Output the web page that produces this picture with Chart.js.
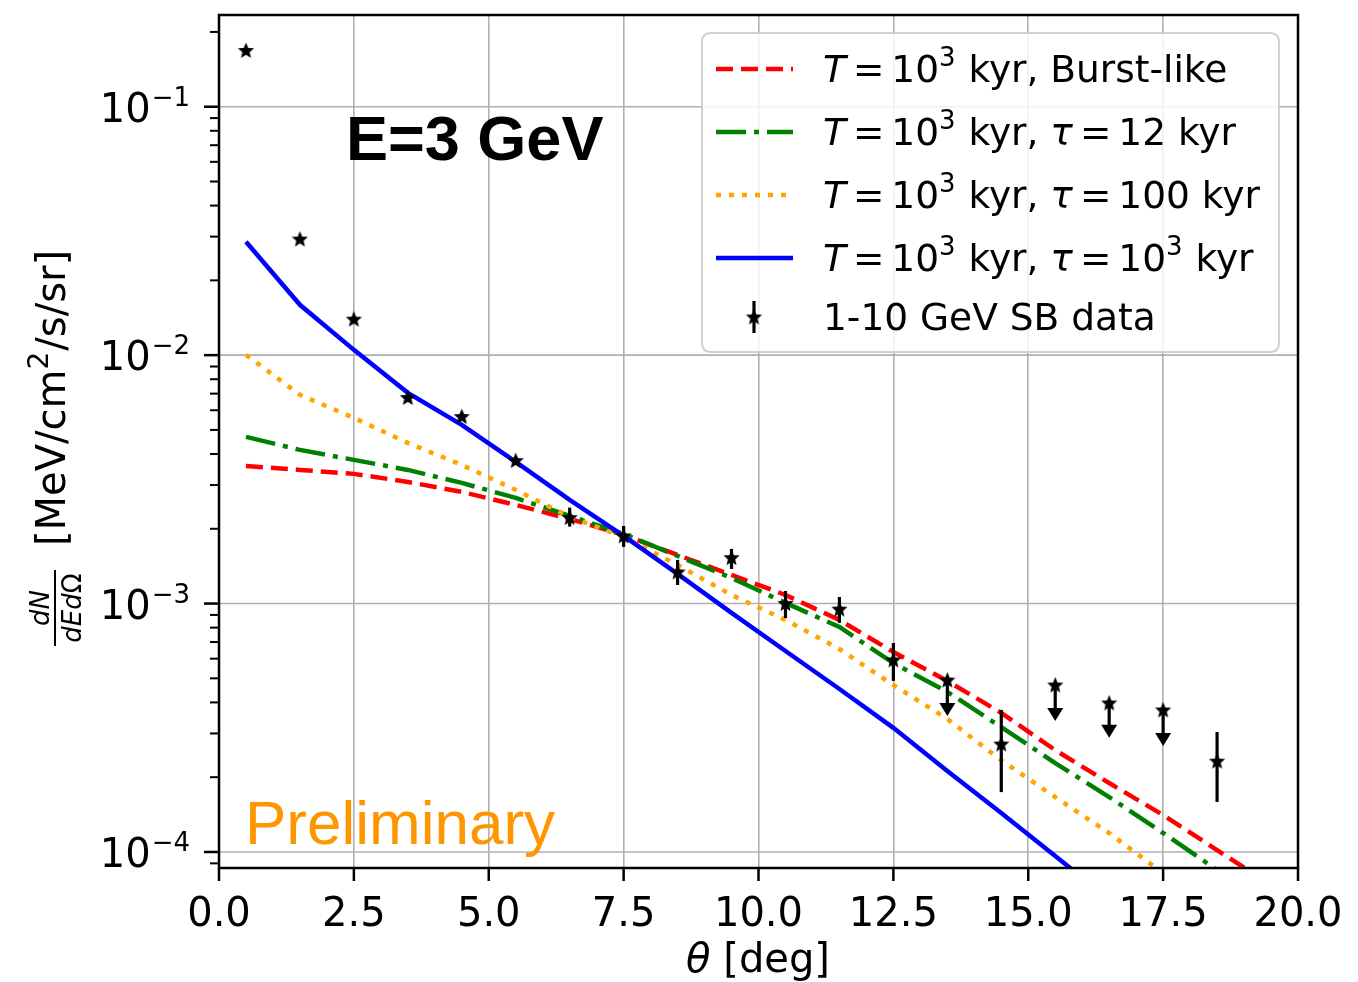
<!DOCTYPE html>
<html><head><meta charset="utf-8">
<script src="https://cdn.jsdelivr.net/npm/chart.js@4/dist/chart.umd.min.js"></script>
<style>html,body{margin:0;padding:0;background:#fff;overflow:hidden}</style>
</head><body>
<canvas id="c" width="1358" height="982" style="display:block;width:1358px;height:982px"></canvas>
<script>
// ---------------- data ----------------
const thetaModel = [0.5,1.5,2.5,3.5,4.5,5.5,6.5,7.5,8.5,9.5,10.5,11.5,12.5,13.5,14.5,15.5,16.5,17.5,18.5,19.5];
const burstLike = [0.003582,0.003452,0.003327,0.003088,0.002814,0.002495,0.002191,0.001889,0.001569,0.001304,0.001083,0.000859,0.000638,0.000488,0.000363,0.000257,0.0001895,0.0001408,0.0001018,0.0000736];
const tau12     = [0.004688,0.004155,0.003787,0.003451,0.003060,0.002662,0.002253,0.001907,0.001555,0.001268,0.001006,0.000805,0.000576,0.000441,0.000318,0.000228,0.0001664,0.0001192,0.0000846,0.0000605];
const tau100    = [0.010028,0.006920,0.005591,0.004433,0.003615,0.002868,0.002233,0.001854,0.001430,0.001083,0.000859,0.000656,0.000470,0.000343,0.000234,0.0001664,0.0001192,0.0000822];
const tau1000   = [0.02859,0.01594,0.01050,0.00705,0.00524,0.00372,0.002614,0.001872,0.001316,0.000917,0.000644,0.000453,0.000316,0.000212,0.0001435,0.0000963,0.0000646];

const thetaData = [0.5,1.5,2.5,3.5,4.5,5.5,6.5,7.5,8.5,9.5,10.5,11.5,12.5,13.5,14.5,15.5,16.5,17.5,18.5];
const sbData    = [0.1684,0.02931,0.01396,0.006751,0.005658,0.003762,0.002218,0.001872,0.00134,0.00153,0.001,0.00095,0.000593,0.000492,0.000272,0.00047,0.000398,0.000373,0.000232];
const sbErrLow  = [0.1684,0.02931,0.01396,0.00650,0.00545,0.00362,0.002041,0.00169,0.001188,0.001378,0.000875,0.000836,0.000488,0.000353,0.0001742,0.000337,0.000288,0.000267,0.000159];
const sbErrHigh = [0.1684,0.02931,0.01396,0.00701,0.00587,0.00390,0.002434,0.002053,0.0014985,0.00166,0.001124,0.001063,0.000694,0.000492,0.000373,0.00047,0.000398,0.000373,0.000304];
const sbUpperLimit = [false,false,false,false,false,false,false,false,false,false,false,false,false,true,false,true,true,true,false];

const xTickValues = [0,2.5,5,7.5,10,12.5,15,17.5,20];
const xTickLabels = ['0.0','2.5','5.0','7.5','10.0','12.5','15.0','17.5','20.0'];
const yDecades = [-4,-3,-2,-1];
const yMin = 8.62e-5, yMax = 0.234;

const legendTexts = [
  [{t:'T',it:1},{g:7},{t:'='},{g:7},{t:'10'},{t:'3',sup:1},{t:' kyr, Burst-like'}],
  [{t:'T',it:1},{g:7},{t:'='},{g:7},{t:'10'},{t:'3',sup:1},{t:' kyr, '},{t:'τ',it:1},{g:7},{t:'='},{g:7},{t:'12 kyr'}],
  [{t:'T',it:1},{g:7},{t:'='},{g:7},{t:'10'},{t:'3',sup:1},{t:' kyr, '},{t:'τ',it:1},{g:7},{t:'='},{g:7},{t:'100 kyr'}],
  [{t:'T',it:1},{g:7},{t:'='},{g:7},{t:'10'},{t:'3',sup:1},{t:' kyr, '},{t:'τ',it:1},{g:7},{t:'='},{g:7},{t:'10'},{t:'3',sup:1},{t:' kyr'}],
  [{t:'1-10 GeV SB data'}]
];

// ---------------- helpers ----------------
const FONT = '"DejaVu Sans"';
function makeStar(r){
  const s = Math.ceil(r*2+4), c = document.createElement('canvas');
  c.width = s; c.height = s;
  const g = c.getContext('2d');
  g.translate(s/2, s/2+0.5);
  g.beginPath();
  for(let i=0;i<10;i++){
    const rr = i%2 ? r*0.45 : r, a = -Math.PI/2 + i*Math.PI/5;
    g.lineTo(rr*Math.cos(a), rr*Math.sin(a));
  }
  g.closePath(); g.fillStyle = '#000'; g.fill();
  return c;
}
const starImg = makeStar(8.5);

function drawRich(ctx, parts, x, y, size){
  let cx = x;
  for(const p of parts){
    if(p.g){ cx += p.g; continue; }
    const sz = p.sup ? Math.round(size*0.7) : size;
    ctx.font = (p.it ? 'italic ' : '') + sz + 'px ' + FONT;
    ctx.fillText(p.t, cx, p.sup ? y - size*0.42 : y);
    cx += ctx.measureText(p.t).width + (p.sup ? 1 : 0);
  }
  return cx;
}
function drawStarAt(ctx, x, y){ ctx.drawImage(starImg, x - starImg.width/2, y - starImg.height/2); }
function drawDown(ctx, x, yTop, yTip){
  ctx.beginPath(); ctx.moveTo(x, yTop); ctx.lineTo(x, yTip-12); ctx.stroke();
  ctx.beginPath(); ctx.moveTo(x-8, yTip-13); ctx.lineTo(x+8, yTip-13); ctx.lineTo(x, yTip); ctx.closePath(); ctx.fill();
}

const decorPlugin = {
  id: 'decor',
  beforeDatasetsDraw(chart){
    const ctx = chart.ctx, a = chart.chartArea, ys = chart.scales.y;
    ctx.save();
    ctx.strokeStyle = '#b0b0b0'; ctx.lineWidth = 1.6;
    for(const n of yDecades){
      const py = ys.getPixelForValue(Math.pow(10,n));
      ctx.beginPath(); ctx.moveTo(a.left, py); ctx.lineTo(a.right, py); ctx.stroke();
    }
    ctx.restore();
  },
  afterDatasetsDraw(chart){
    const ctx = chart.ctx, a = chart.chartArea, xs = chart.scales.x, ys = chart.scales.y;
    ctx.save();
    // error bars & upper limits
    ctx.beginPath(); ctx.rect(a.left, a.top, a.right-a.left, a.bottom-a.top); ctx.clip();
    ctx.strokeStyle = '#000'; ctx.fillStyle = '#000'; ctx.lineWidth = 3.2;
    thetaData.forEach((t,i)=>{
      const px = xs.getPixelForValue(t);
      if(sbUpperLimit[i]){
        drawDown(ctx, px, ys.getPixelForValue(sbData[i]), ys.getPixelForValue(sbErrLow[i]));
      } else if(sbErrHigh[i] !== sbErrLow[i]){
        ctx.beginPath();
        ctx.moveTo(px, ys.getPixelForValue(sbErrHigh[i]));
        ctx.lineTo(px, ys.getPixelForValue(sbErrLow[i]));
        ctx.stroke();
      }
    });
    ctx.restore();

    ctx.save();
    // annotations
    ctx.fillStyle = '#000';
    ctx.font = 'bold 63px "Liberation Sans"';
    ctx.textBaseline = 'alphabetic'; ctx.textAlign = 'left';
    ctx.fillText('E=3 GeV', 346, 160);
    ctx.fillStyle = '#ff9600';
    ctx.font = '62px "Liberation Sans"';
    ctx.fillText('Preliminary', 245, 844);

    // legend
    const lx = 702, ly = 33, lw = 577, lh = 319, r = 9;
    ctx.beginPath();
    ctx.moveTo(lx+r, ly); ctx.lineTo(lx+lw-r, ly); ctx.quadraticCurveTo(lx+lw, ly, lx+lw, ly+r);
    ctx.lineTo(lx+lw, ly+lh-r); ctx.quadraticCurveTo(lx+lw, ly+lh, lx+lw-r, ly+lh);
    ctx.lineTo(lx+r, ly+lh); ctx.quadraticCurveTo(lx, ly+lh, lx, ly+lh-r);
    ctx.lineTo(lx, ly+r); ctx.quadraticCurveTo(lx, ly, lx+r, ly); ctx.closePath();
    ctx.fillStyle = 'rgba(255,255,255,0.82)'; ctx.fill();
    ctx.strokeStyle = '#d0d0d0'; ctx.lineWidth = 2; ctx.stroke();

    const rowsY = [69, 132, 195, 258, 317];
    const dsList = chart.data.datasets;
    for(let i=0;i<4;i++){
      const ds = dsList[i];
      ctx.strokeStyle = ds.borderColor; ctx.lineWidth = ds.borderWidth;
      ctx.setLineDash(ds.borderDash || []);
      ctx.beginPath(); ctx.moveTo(716, rowsY[i]); ctx.lineTo(793, rowsY[i]); ctx.stroke();
    }
    ctx.setLineDash([]);
    ctx.strokeStyle = '#000'; ctx.lineWidth = 3.2;
    ctx.beginPath(); ctx.moveTo(754, rowsY[4]-16); ctx.lineTo(754, rowsY[4]+16); ctx.stroke();
    drawStarAt(ctx, 754, rowsY[4]);
    ctx.fillStyle = '#000';
    legendTexts.forEach((parts,i)=> drawRich(ctx, parts, 823, rowsY[i]+13, 37.5));

    // frame
    ctx.strokeStyle = '#000'; ctx.lineWidth = 2.5;
    ctx.strokeRect(a.left, a.top, a.right-a.left, a.bottom-a.top);

    // x ticks + labels
    ctx.lineWidth = 2.5;
    ctx.font = '40px ' + FONT; ctx.textAlign = 'center';
    xTickValues.forEach((v,i)=>{
      const px = xs.getPixelForValue(v);
      ctx.beginPath(); ctx.moveTo(px, a.bottom); ctx.lineTo(px, a.bottom+13); ctx.stroke();
      ctx.fillText(xTickLabels[i], px, 926);
    });
    ctx.textAlign = 'left';
    // y ticks (major + minor)
    for(let n=-5;n<=0;n++){
      for(let k=1;k<=9;k++){
        const v = k*Math.pow(10,n);
        if(v < yMin || v > yMax) continue;
        const py = ys.getPixelForValue(v);
        ctx.lineWidth = k===1 ? 2.5 : 2;
        ctx.beginPath(); ctx.moveTo(a.left, py); ctx.lineTo(a.left-(k===1?15:9), py); ctx.stroke();
      }
    }
    // y tick labels
    ctx.fillStyle = '#000';
    for(const n of yDecades){
      const py = ys.getPixelForValue(Math.pow(10,n));
      ctx.font = '26px ' + FONT;
      const ex = '\u2212' + Math.abs(n);
      const ew = ctx.measureText(ex).width;
      ctx.fillText(ex, 190 - ew, py - 1);
      ctx.font = '40px ' + FONT;
      const bw = ctx.measureText('10').width;
      ctx.fillText('10', 190 - ew - bw - 1, py + 15);
    }
    // x axis label
    ctx.font = 'italic 40px ' + FONT;
    const thw = ctx.measureText('θ').width;
    ctx.font = '40px ' + FONT;
    const rw = ctx.measureText(' [deg]').width;
    const sx = 758 - (thw + rw)/2;
    drawRich(ctx, [{t:'θ',it:1},{t:' [deg]'}], sx, 972, 40);

    // y axis label
    ctx.save();
    ctx.translate(65, 546); ctx.rotate(-Math.PI/2);
    drawRich(ctx, [{t:'[MeV/cm'},{t:'2',sup:1},{t:'/s/sr]'}], 0, 0, 40);
    ctx.restore();
    // fraction dN / dEdΩ
    ctx.save();
    ctx.translate(55, 646); ctx.rotate(-Math.PI/2);
    ctx.lineWidth = 2; ctx.beginPath(); ctx.moveTo(0,0); ctx.lineTo(76,0); ctx.stroke();
    ctx.font = 'italic 26px ' + FONT;
    const nw = ctx.measureText('dN').width;
    ctx.fillText('dN', 38 - nw/2, -6);
    ctx.font = 'italic 26px ' + FONT;
    const d1 = ctx.measureText('dEd').width;
    ctx.font = '26px ' + FONT;
    const d2 = ctx.measureText('Ω').width;
    const ds0 = 38 - (d1+d2)/2;
    ctx.font = 'italic 26px ' + FONT; ctx.fillText('dEd', ds0, 26);
    ctx.font = '26px ' + FONT; ctx.fillText('Ω', ds0 + d1, 26);
    ctx.restore();

    ctx.restore();
  }
};

const pts = (xs, ys) => xs.slice(0, ys.length).map((x,i)=>({x, y: ys[i]}));

new Chart(document.getElementById('c').getContext('2d'), {
  type: 'line',
  data: {
    datasets: [
      {label:'T = 10^3 kyr, Burst-like', data: pts(thetaModel, burstLike), borderColor:'#ff0000', borderWidth:4.5, borderDash:[17,8], pointRadius:0, fill:false, tension:0, order:4},
      {label:'T = 10^3 kyr, tau = 12 kyr', data: pts(thetaModel, tau12), borderColor:'#008000', borderWidth:4.5, borderDash:[30,8,5,8], pointRadius:0, fill:false, tension:0, order:3},
      {label:'T = 10^3 kyr, tau = 100 kyr', data: pts(thetaModel, tau100), borderColor:'#ffa500', borderWidth:4.5, borderDash:[5,8], pointRadius:0, fill:false, tension:0, order:2},
      {label:'T = 10^3 kyr, tau = 10^3 kyr', data: pts(thetaModel, tau1000), borderColor:'#0000ff', borderWidth:4.5, pointRadius:0, fill:false, tension:0, order:1},
      {label:'1-10 GeV SB data', data: pts(thetaData, sbData), showLine:false, pointStyle: starImg, pointRadius: 9, borderColor:'#000', backgroundColor:'#000', order:0}
    ]
  },
  options: {
    responsive:false, animation:false, devicePixelRatio:1,
    layout:{padding:{top:15, right:60, left:0, bottom:0}},
    plugins:{legend:{display:false}, tooltip:{enabled:false}},
    events: [],
    scales:{
      x:{type:'linear', min:0, max:20,
        afterFit(s){ s.height = 114; },
        ticks:{stepSize:2.5, autoSkip:false, maxRotation:0, display:false},
        grid:{color:'#b0b0b0', lineWidth:1.6, drawTicks:false},
        border:{display:false}},
      y:{type:'logarithmic', min:yMin, max:yMax,
        afterFit(s){ s.width = 219; },
        ticks:{display:false},
        grid:{display:false},
        border:{display:false}}
    }
  },
  plugins:[decorPlugin]
});
</script>
</body></html>
